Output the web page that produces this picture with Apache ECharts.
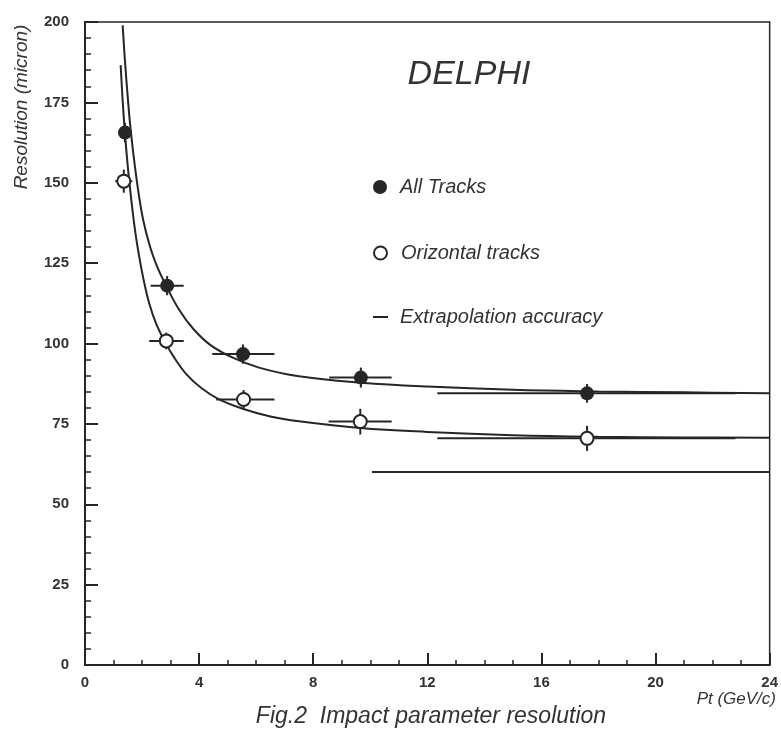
<!doctype html>
<html>
<head>
<meta charset="utf-8">
<script src="https://cdn.jsdelivr.net/npm/echarts@6/dist/echarts.min.js"></script>
<style>
    html, body {margin: 0; padding: 0; background: #fff;}
    #main {width: 781px; height: 731px;}
</style>
</head>
<body>
<div id="main"></div>
<script>
    // measured points (Pt in GeV/c, resolution in micron)
    var allX = [1.40, 2.88, 5.54, 9.67, 17.6];
    var allY = [165.6, 118.0, 96.7, 89.4, 84.5];
    var allXLo = [1.25, 2.30, 4.46, 8.56, 12.35];
    var allXHi = [1.55, 3.46, 6.64, 10.75, 22.8];
    var allYErr = [3.0, 3.0, 3.0, 3.1, 2.9];

    var horX = [1.36, 2.85, 5.56, 9.65, 17.6];
    var horY = [150.5, 100.8, 82.6, 75.7, 70.5];
    var horXLo = [1.06, 2.25, 4.60, 8.54, 12.35];
    var horXHi = [1.66, 3.46, 6.64, 10.75, 22.8];
    var horYErr = [3.6, 2.6, 2.9, 4.0, 3.9];

    // fitted curves
    var fitAllX = [1.32, 1.4, 1.5, 1.6, 1.75, 1.9, 2.05, 2.25, 2.5, 2.87, 3.3, 3.8, 4.4, 5.2, 6.1, 7.5, 9.7, 12, 15, 18, 21, 24];
    var fitAllY = [199, 188, 176.5, 166.5, 155, 145.5, 138, 131, 124.5, 117.5, 110.5, 104.5, 99.5, 95.5, 92.5, 89.8, 87.8, 86.6, 85.6, 85.1, 84.8, 84.5];
    var fitHorX = [1.25, 1.32, 1.4, 1.5, 1.6, 1.75, 1.9, 2.05, 2.25, 2.5, 2.8, 3.1, 3.55, 4.1, 4.7, 5.5, 6.5, 7.5, 9.65, 12, 15, 18, 21, 24];
    var fitHorY = [186.6, 175.5, 165.5, 155, 146.5, 135.5, 127, 120, 112.5, 106, 100.6, 96, 90.5, 86, 82.6, 79.8, 77.3, 75.8, 73.7, 72.5, 71.5, 71.0, 70.8, 70.7];

    var extrapX = [10.06, 24];
    var extrapY = [60, 60];

    var xTicks = [0, 4, 8, 12, 16, 20, 24];
    var yTicks = [0, 25, 50, 75, 100, 125, 150, 175, 200];

    var ink = '#262626';
    var fam = 'Liberation Sans, Arial, sans-serif';

    function zip(xs, ys) {
        return xs.map(function (x, i) { return [x, ys[i]]; });
    }
    function errData(xs, ys, lo, hi, err) {
        return xs.map(function (x, i) { return [x, ys[i], lo[i], hi[i], err[i]]; });
    }
    function renderErr(params, api) {
        var c = api.coord([api.value(0), api.value(1)]);
        var l = api.coord([api.value(2), api.value(1)]);
        var r = api.coord([api.value(3), api.value(1)]);
        var t = api.coord([api.value(0), api.value(1) + api.value(4)]);
        var b = api.coord([api.value(0), api.value(1) - api.value(4)]);
        var st = {stroke: ink, lineWidth: 2};
        return {
            type: 'group',
            children: [
                {type: 'line', shape: {x1: l[0], y1: c[1], x2: r[0], y2: c[1]}, style: st},
                {type: 'line', shape: {x1: c[0], y1: t[1], x2: c[0], y2: b[1]}, style: st}
            ]
        };
    }

    var myChart = echarts.init(document.getElementById('main'));
    var option = {
        animation: false,
        grid: {left: 85, right: 9, top: 22, bottom: 66, show: true, borderColor: ink, borderWidth: 1.5},
        xAxis: {
            type: 'value', min: xTicks[0], max: xTicks[xTicks.length - 1], interval: 4,
            axisLine: {onZero: false, lineStyle: {color: ink, width: 2}},
            axisTick: {inside: true, length: 12, lineStyle: {color: ink, width: 2}},
            minorTick: {show: true, splitNumber: 4, length: 5, lineStyle: {color: ink, width: 1.5}},
            splitLine: {show: false},
            axisLabel: {margin: 10, color: '#333', fontWeight: 'bold', fontSize: 15, fontFamily: fam}
        },
        yAxis: {
            type: 'value', min: yTicks[0], max: yTicks[yTicks.length - 1], interval: 25,
            axisLine: {onZero: false, lineStyle: {color: ink, width: 2}},
            axisTick: {inside: true, length: 13, lineStyle: {color: ink, width: 2}},
            minorTick: {show: true, splitNumber: 5, length: 6, lineStyle: {color: ink, width: 1.5}},
            splitLine: {show: false},
            axisLabel: {margin: 16, color: '#333', fontWeight: 'bold', fontSize: 15, fontFamily: fam}
        },
        legend: [
            {left: 368, top: 172, itemWidth: 14, itemHeight: 14,
                data: [{name: 'All Tracks', icon: 'circle', itemStyle: {color: ink}}],
                textStyle: {fontSize: 20, fontStyle: 'italic', color: '#333', fontFamily: fam, padding: [0, 0, 0, 8]}},
            {left: 368, top: 238, itemWidth: 13, itemHeight: 13,
                data: [{name: 'Orizontal tracks', icon: 'circle', itemStyle: {color: '#fff', borderColor: ink, borderWidth: 2}}],
                textStyle: {fontSize: 20, fontStyle: 'italic', color: '#333', fontFamily: fam, padding: [0, 0, 0, 9]}},
            {left: 368, top: 302, itemWidth: 15, itemHeight: 2,
                data: [{name: 'Extrapolation accuracy', icon: 'rect', itemStyle: {color: ink}}],
                textStyle: {fontSize: 20, fontStyle: 'italic', color: '#333', fontFamily: fam, padding: [0, 0, 0, 7]}}
        ],
        graphic: [
            {type: 'text', x: 469, y: 75, style: {text: 'DELPHI', fontSize: 34, fontStyle: 'italic', fontFamily: fam, fill: '#333', textAlign: 'center', textVerticalAlign: 'middle'}},
            {type: 'text', x: 22, y: 107, rotation: Math.PI / 2, style: {text: 'Resolution (micron)', fontSize: 19, fontStyle: 'italic', fontFamily: fam, fill: '#333', textAlign: 'center', textVerticalAlign: 'middle'}},
            {type: 'text', x: 776, y: 699, style: {text: 'Pt (GeV/c)', fontSize: 17, fontStyle: 'italic', fontFamily: fam, fill: '#333', textAlign: 'right', textVerticalAlign: 'middle'}},
            {type: 'text', x: 431, y: 717, style: {text: 'Fig.2  Impact parameter resolution', fontSize: 23, fontStyle: 'italic', fontFamily: fam, fill: '#333', textAlign: 'center', textVerticalAlign: 'middle'}}
        ],
        series: [
            {name: 'fitAll', type: 'line', data: zip(fitAllX, fitAllY), smooth: 0.4, showSymbol: false, symbol: 'none', lineStyle: {color: ink, width: 2}, z: 2},
            {name: 'fitHor', type: 'line', data: zip(fitHorX, fitHorY), smooth: 0.4, showSymbol: false, symbol: 'none', lineStyle: {color: ink, width: 2}, z: 2},
            {name: 'Extrapolation accuracy', type: 'line', data: zip(extrapX, extrapY), symbol: 'none', lineStyle: {color: ink, width: 2}, z: 2},
            {name: 'errAll', type: 'custom', renderItem: renderErr, data: errData(allX, allY, allXLo, allXHi, allYErr), z: 3},
            {name: 'errHor', type: 'custom', renderItem: renderErr, data: errData(horX, horY, horXLo, horXHi, horYErr), z: 3},
            {name: 'All Tracks', type: 'scatter', data: zip(allX, allY), symbol: 'circle', symbolSize: 14, itemStyle: {color: ink, opacity: 1}, z: 4},
            {name: 'Orizontal tracks', type: 'scatter', data: zip(horX, horY), symbol: 'circle', symbolSize: 13, itemStyle: {color: '#fff', borderColor: ink, borderWidth: 2, opacity: 1}, z: 4}
        ]
    };
    myChart.setOption(option);
</script>
</body>
</html>
